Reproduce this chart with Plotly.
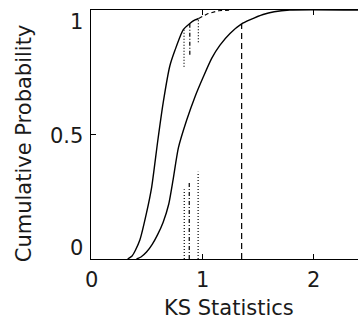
import plotly.graph_objects as go

# ---- data ----
left_x = [0.33, 0.37, 0.40, 0.44, 0.50, 0.547, 0.60, 0.65, 0.71, 0.757, 0.83, 0.89, 0.937, 0.97]
left_y = [0.0, 0.012, 0.035, 0.076, 0.185, 0.29, 0.47, 0.627, 0.775, 0.839, 0.92, 0.946, 0.96, 0.966]

left_tail_x = [0.97, 1.05, 1.15, 1.25]
left_tail_y = [0.966, 0.985, 0.997, 1.0]

right_x = [0.41, 0.45, 0.50, 0.55, 0.60, 0.65, 0.70, 0.74, 0.787, 0.862, 0.937, 1.012,
           1.087, 1.162, 1.252, 1.357, 1.43, 1.55, 1.65, 1.79, 2.41]
right_y = [0.0, 0.008, 0.028, 0.058, 0.098, 0.148, 0.22, 0.32, 0.446, 0.558, 0.652, 0.732,
           0.806, 0.859, 0.906, 0.944, 0.96, 0.982, 0.993, 1.0, 1.0]

# vertical markers: x, y_start, y_end, style
low_marker_x = [0.84, 0.885, 0.965]
low_marker_y0 = [0.0, 0.0, 0.0]
low_marker_y1 = [0.28, 0.305, 0.35]
high_marker_x = [0.838, 0.89, 0.967]
high_marker_y0 = [0.772, 0.82, 0.87]
high_marker_y1 = [0.925, 0.945, 0.965]
marker_styles = ["1px,2px", "4px,2px,1px,2px", "1px,2px"]

ks_x = [1.357, 1.357]
ks_y = [0.0, 0.944]

x_tickvals = [0, 1, 2]
x_ticktext = ["0", "1", "2"]
y_tickvals = [0, 0.5, 1]
y_ticktext = ["0", "0.5", "1"]
y_label_shift = [11, -1, -12]

x_title = "KS Statistics"
y_title = "Cumulative Probability"

FONT = "DejaVu Sans"
FS = 21
TXT = "#1a1a1a"

fig = go.Figure()
line_kw = dict(color="black", width=1.4)
fig.add_trace(go.Scatter(x=left_x, y=left_y, mode="lines",
                         line=dict(**line_kw, shape="spline", smoothing=0.6)))
fig.add_trace(go.Scatter(x=left_tail_x, y=left_tail_y, mode="lines",
                         line=dict(color="black", width=1.2, dash="4px,3px")))
fig.add_trace(go.Scatter(x=right_x, y=right_y, mode="lines",
                         line=dict(**line_kw, shape="spline", smoothing=0.6)))
for xs, y0s, y1s in [(low_marker_x, low_marker_y0, low_marker_y1),
                     (high_marker_x, high_marker_y0, high_marker_y1)]:
    for xv, a, b, st in zip(xs, y0s, y1s, marker_styles):
        fig.add_trace(go.Scatter(x=[xv, xv], y=[a, b], mode="lines",
                                 line=dict(color="black", width=1.2, dash=st)))
fig.add_trace(go.Scatter(x=ks_x, y=ks_y, mode="lines",
                         line=dict(color="black", width=1.2, dash="6px,4px")))

# tick labels as annotations
for v, t in zip(x_tickvals, x_ticktext):
    fig.add_annotation(x=v, y=0, xref="x", yref="paper", text=t, showarrow=False,
                       yshift=-21, yanchor="middle", xanchor="center",
                       font=dict(family=FONT, size=FS, color=TXT))
for v, t, s in zip(y_tickvals, y_ticktext, y_label_shift):
    fig.add_annotation(x=0, y=v, xref="paper", yref="y", text=t, showarrow=False,
                       xshift=-6, yshift=s, xanchor="right", yanchor="middle",
                       font=dict(family=FONT, size=FS, color=TXT))
fig.add_annotation(x=1.243, y=0, xref="x", yref="paper", text=x_title, showarrow=False,
                   yshift=-49, yanchor="middle", xanchor="center",
                   font=dict(family=FONT, size=FS, color=TXT))
fig.add_annotation(x=0, y=0.465, xref="paper", yref="paper", text=y_title, showarrow=False,
                   xshift=-67, textangle=-90, xanchor="center", yanchor="middle",
                   font=dict(family=FONT, size=FS, color=TXT))

fig.update_layout(
    width=358, height=320,
    margin=dict(l=91, r=0, t=10, b=61),
    paper_bgcolor="white", plot_bgcolor="white",
    showlegend=False,
    font=dict(family=FONT, size=FS, color=TXT),
)
fig.update_xaxes(range=[0, 2.405], showgrid=False, zeroline=False, showline=True,
                 linecolor="black", linewidth=1, mirror="ticks", ticks="inside",
                 ticklen=5, tickcolor="black", tickvals=x_tickvals, showticklabels=False)
fig.update_yaxes(range=[0, 1], showgrid=False, zeroline=False, showline=True,
                 linecolor="black", linewidth=1.2, mirror=False, ticks="inside",
                 ticklen=5, tickcolor="black", tickvals=y_tickvals, showticklabels=False)

fig.write_html("out.html")
